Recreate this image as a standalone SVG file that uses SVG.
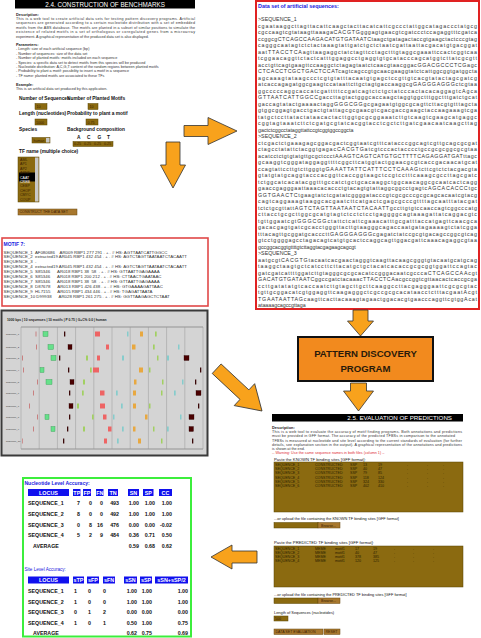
<svg xmlns="http://www.w3.org/2000/svg" width="481" height="638" viewBox="0 0 481 638">
<style>
text{font-family:"Liberation Sans",Arial,sans-serif}
.sm{font-size:3.7px;fill:#333}
.smb{font-size:3.9px;fill:#222;font-weight:bold}
.lbl{font-size:4.8px;fill:#111;font-weight:bold}
.seq{font-family:"Liberation Mono","DejaVu Sans Mono",monospace;font-size:5.3px;fill:#333}
.mot{font-family:"Liberation Mono","DejaVu Sans Mono",monospace;font-size:4.35px;fill:#333}
.gff{font-family:"Liberation Mono","DejaVu Sans Mono",monospace;font-size:3.6px;fill:#2a1e00}
.blue{fill:#2020e0;font-weight:bold}
.box{fill:#8b6a10;stroke:#5a4500;stroke-width:0.5}
.btn{fill:#a8782e;stroke:#6a4a10;stroke-width:0.5}
.btnt{font-size:3.6px;fill:#3a2000}
.arrow{fill:#f8a21c;stroke:#333;stroke-width:0.8}
.hd{fill:#1010ee}
.hdt{font-size:5.4px;fill:#fff;font-weight:bold;text-anchor:middle}
.tb{font-size:5.3px;fill:#111;font-weight:bold}
.tbe{font-size:5.3px;fill:#111;font-weight:bold;text-anchor:end}
.grid{stroke:#999;stroke-width:0.5}
.pk{fill:#c88080}.gr{fill:#66e08a;stroke:#3a9a55;stroke-width:0.4}.dk{fill:#3a0808}.dr{fill:#4a0000;stroke:#200;stroke-width:0.3}.rd{fill:#ee6464}.cy{fill:#86cccc}.or{fill:#e8a840}.lg{fill:#a2d062}
.rl{font-size:2.4px;fill:#333}
</style>

<g id="construction">
<rect x="15" y="0" width="180" height="8.5" fill="#000"/>
<text x="105" y="6.6" font-size="6.3" fill="#fff" text-anchor="middle">2.4. CONSTRUCTION OF BENCHMARKS</text>
<text x="16" y="16" class="smb">Description:</text>
<text x="16" y="20" class="sm" textLength="179">This is a web tool to create artificial data sets for testing pattern discovery programs. Artificial</text>
<text x="16" y="24.4" class="sm" textLength="179">sequences are generated according to a certain nucleotide distribution with a set of embedded</text>
<text x="16" y="28.8" class="sm" textLength="179">motifs from the ABS database. The motifs are planted in a subset of similar positions to simulate the</text>
<text x="16" y="33.2" class="sm" textLength="179">existence of related motifs in a set of orthologous or coregulated genes from a microarray</text>
<text x="16" y="37.6" class="sm">experiment. A graphical representation of the produced data set is also displayed.</text>
<text x="16" y="46" class="smb">Parameters:</text>
<text x="16" y="50.4" class="sm">- Length: size of each artificial sequence (bp)</text>
<text x="16" y="54.8" class="sm">- Number of sequences: size of the data set</text>
<text x="16" y="59.2" class="sm">- Number of planted motifs: motifs included on each sequence</text>
<text x="16" y="63.6" class="sm">- Species: a specific data set to detect motifs from this species will be produced</text>
<text x="16" y="68" class="sm">- Nucleotide distribution: A,C,G,T content of the random regions between planted motifs</text>
<text x="16" y="72.4" class="sm">- Probability to plant a motif: possibility to insert a motif in a sequence</text>
<text x="16" y="76.8" class="sm">- TF name: planted motifs are associated to these TFs</text>
<text x="16" y="86" class="smb">Example:</text>
<text x="16" y="90.4" class="sm">This is an artificial data set produced by this application.</text>
<text x="19" y="99.5" class="lbl">Number of Sequences</text>
<text x="67" y="99.5" class="lbl">Number of Planted Motifs</text>
<rect x="35" y="103.5" width="12" height="6" class="box"/>
<text x="36.5" y="108" class="btnt">10</text>
<rect x="88" y="103.5" width="10" height="6" class="box"/>
<text x="89.5" y="108" class="btnt">10</text>
<text x="19" y="115" class="lbl">Length (nucleotides)</text>
<text x="67" y="115" class="lbl">Probability to plant a motif</text>
<rect x="35" y="119" width="12" height="6" class="box"/>
<text x="36" y="123.5" class="btnt">1000</text>
<rect x="86" y="119" width="12" height="6" class="box"/>
<text x="87.5" y="123.5" class="btnt">0.75</text>
<text x="19" y="131" class="lbl">Species</text>
<text x="67" y="131" class="lbl">Background composition</text>
<text x="77" y="138.5" class="lbl">A</text>
<text x="87" y="138.5" class="lbl">C</text>
<text x="97.5" y="138.5" class="lbl">G</text>
<text x="107" y="138.5" class="lbl">T</text>
<rect x="32" y="137.5" width="18" height="5.5" class="box"/>
<text x="33.5" y="141.6" class="btnt">human</text>
<rect x="46" y="138" width="3.5" height="4.5" fill="#c8c8c8"/>
<rect x="73" y="141.5" width="40" height="5" class="box"/>
<text x="74" y="145.4" class="btnt">0.25</text>
<text x="84" y="145.4" class="btnt">0.25</text>
<text x="94" y="145.4" class="btnt">0.25</text>
<text x="104" y="145.4" class="btnt">0.25</text>
<text x="19" y="153" class="lbl" font-weight="normal">TF name (multiple choice)</text>
<rect x="18" y="157" width="21" height="45" class="box"/>
<rect x="35" y="157.5" width="3.5" height="44" fill="#c8c8c8"/>
<rect x="19" y="172.5" width="16" height="9" fill="#000"/>
<g class="btnt">
<text x="20" y="161">AML</text>
<text x="20" y="165.4">AP1</text>
<text x="20" y="169.8">AP2</text>
<text x="20" y="174.2">ARNT</text>
<text x="20" y="178.6" fill="#fff">CAAT</text>
<text x="20" y="183" fill="#fff">CREB</text>
<text x="20" y="187.4">CEBP</text>
<text x="20" y="191.8">CHOP</text>
<text x="20" y="196.2">CMYC</text>
<text x="20" y="200.6">COUP</text>
</g>
<rect x="18" y="209" width="59" height="6" class="btn"/>
<text x="19.5" y="213.4" class="btnt">CONSTRUCT THE DATA SET</text>
</g>

<g id="dataset">
<rect x="256" y="1" width="223" height="308" fill="#fff" stroke="#e02222" stroke-width="2"/>
<text x="258" y="7.5" font-size="5.4" class="blue">Data set of artificial sequences:</text>
<g class="seq">
<text x="258" y="21">&gt;SEQUENCE_1</text>
<text x="258" y="27.5" textLength="219">cgaataaggcttagttacattcaagctacttacatcattcgccctattggcatagaccctatgcg</text>
<text x="258" y="34" textLength="219">cgccaagtcgtataagttaaagaCACGTGgggagtgaacgtcgatccctccagaggtttcgatca</text>
<text x="258" y="40.5" textLength="219">ccggcgCTCAGCCAAGACATGTGATAATCtaagctgatagactaccgtgaagctactcccgtag</text>
<text x="258" y="47" textLength="219">cagggcaatagtctctactaaagtattgatctgctctaatcgattaattacgacatgtgacggat</text>
<text x="258" y="53.5" textLength="219">aatTTACCTCAagttaagaggctatctagttcctagctttgtaggcgaaattccactcggtcaa</text>
<text x="258" y="60" textLength="219">tcggaacaggttctactcatttggaggcctgaggtgtgcatacccagcatggtcttatcgcgtt</text>
<text x="258" y="66.5" textLength="219">acctgttcagtgaagttccaaggctctagagtaatctcaacgtaacggacGGACGCCCTCGagc</text>
<text x="258" y="73" textLength="219">CTCACCTCGCTGACTCCATcagtcagccgtgcaacgaaggtatctcattggcggtgatggcta</text>
<text x="258" y="79.5" textLength="219">agcaaagtataagccctcgtgtatttacaatgtgagctccgttgtcacgtatactagcgatcg</text>
<text x="258" y="86" textLength="219">atcaccagagatggcgaagtccataattcttgctagtgaccaaggcgGAGGGAGGGctcgtaa</text>
<text x="258" y="92.5" textLength="219">ggcccccaggcaccatcgatttttccgatcagtctctgctatcccactacacaggagtcAgca</text>
<text x="258" y="99" textLength="219">GTTAATCATTGGCCgaccttagtactgggcaccaagctaggtggctttggctttgatctgcat</text>
<text x="258" y="105.5" textLength="219">gaccagtatactgaaaactaggGGGCGGgcgagaatgtggcgcagttcttacgtgtttagcta</text>
<text x="258" y="112" textLength="219">gtggcggagtgacctgactgtattagcgcgaacgtcgacgaccgaagctaccaagaaagtcga</text>
<text x="258" y="118.5" textLength="219">tatgctccttatactataacactacttggtgcgcggaaatcttgtcaagtcgaagcatgaggc</text>
<text x="258" y="125" textLength="219">cggtagtaaatcttctcgatgcgtatcacggtacctcgctcttgatcgaacaatcaagcttag</text>
<text x="258" y="131.5">gactctcggcctataggttattccgtcggtggccggcta</text>
<text x="258" y="138">&gt;SEQUENCE_2</text>
<text x="258" y="144.5" textLength="219">ctcgactctgaaagagcggacgactcggtaatcgtttcatacccggcagtcgttgcagcgcgat</text>
<text x="258" y="151" textLength="219">ctagcctatattctacggtgagacCACGTGatcgtcccactacccctgccgcgcggcgcgtaa</text>
<text x="258" y="157.5" textLength="219">acatcctctgtgtatgttgcgctccctAAAGTCAGTCATGTGCTTTTCAGAGGATGATttagc</text>
<text x="258" y="164" textLength="219">gcaaggtcgggataggaggttttcggcttcatggtactggaacgcgtcaccgacaacatgcat</text>
<text x="258" y="170.5" textLength="219">ccagtattccttgtcttgggtgGAAATTATTCATTTCCTCAAAGtcttcgtctctacgacgta</text>
<text x="258" y="177" textLength="219">gtatgtatgcaggtacccacggttcaccggtaagctccgtcctttcaaagcgccttagcgatc</text>
<text x="258" y="183.5" textLength="219">tctggcatcacatacggtttgccatctgctgcacaaggctggcaacaggcgcaatcactcagg</text>
<text x="258" y="190" textLength="219">gaaccgagggaattaaacacaccctgtacagtgtattaggcggcctgagtcAGCACACCCtgc</text>
<text x="258" y="196.5" textLength="219">GGTGAACTCtgaagtatctcgatatcggggatacccgtcgcgcccgcgcagcacaatcgtacg</text>
<text x="258" y="203" textLength="219">cagtcaggaaagtaaggcacgaatcttcatgactcgagcgcccgttttagcaatttatacgat</text>
<text x="258" y="209.5" textLength="219">tctctgcgttattAGTCTAGTTAATAATCTACAATTgccttgtgtccaaccagtcggcccatg</text>
<text x="258" y="216" textLength="219">cttacctgcgcttggcgcatgtagtctcctctcctgaggggcagtaaagattatcaggacgtc</text>
<text x="258" y="222.5" textLength="219">tgttggaatcgtGGGCGGctattctcattcgaaacatttgcgatttaccatgagttcaacgca</text>
<text x="258" y="229" textLength="219">gacacgagtgatcgcacctgggttacttgtaagggcagaccaatgatagaaaagtctatcgga</text>
<text x="258" y="235.5" textLength="219">tttacagttgcggatgcacccttGAGGGAGGGcgagatctatccgcgtgacagccggcgtcag</text>
<text x="258" y="242" textLength="219">gtcctggggagcctagacagtcatgtgcactccaggcagttggacgattcaaacagaggcgtaa</text>
<text x="258" y="248.5">gccggcacggtgttttgtcttaggtacgagaagcagcgt</text>
<text x="258" y="255">&gt;SEQUENCE_3</text>
<text x="258" y="261.5" textLength="219">aatgcgtCACGTGtacaatcacgaactagggtcaagttacaagcgggtgtacaatgcatgcag</text>
<text x="258" y="268" textLength="219">taaggctaagtgctcatccttcttacatgctgctacatcacaccgcgcggtggattccagtac</text>
<text x="258" y="274.5" textLength="219">gatcgatcattttggatcttgtagggcgcgcacatccgggacaatcgcccaCTCAGCCAAcgt</text>
<text x="258" y="281" textLength="219">GACATGTGATAATCggccgatctacaaacTTACCTCAacgccggtcgttaacactcaccgcga</text>
<text x="258" y="287.5" textLength="219">ccttgatatatgtcaccaatcttgtagcttgcttcaaggccttacgagggaattcgcgcgtac</text>
<text x="258" y="294" textLength="219">tgttgcggacatcgtggaggttcaagagggctcgccgcgcacataacctctttacgaatAcgt</text>
<text x="258" y="300.5" textLength="219">TGAATAATTAGcaagttcacttacaaagtagaactggacacgtgaacccaggttcgtggAcat</text>
<text x="258" y="307">ataaaagcagccgttaga</text>
</g>
<rect x="256" y="308" width="223" height="2" fill="#e02222"/>
</g>

<g id="motif">
<rect x="2" y="238" width="206" height="68" fill="#fff" stroke="#e04848" stroke-width="1.6"/>
<text x="3.5" y="245.5" font-size="5" class="blue">MOTIF 7:</text>
<g class="mot">
<text xml:space="preserve" x="3.5" y="253.5">SEQUENCE_1  AF080686    AR009 RBP1 277 291 . + . # HS: AGTTAATCATTGGCC</text>
<text xml:space="preserve" x="3.5" y="258.4">SEQUENCE_2  extracted19 AR045 RBP1 432 454 . + . # HS: AGTCTAGTTAATAATCTACAATT</text>
<text xml:space="preserve" x="3.5" y="263.3">SEQUENCE_3  -</text>
<text xml:space="preserve" x="3.5" y="268.2">SEQUENCE_4  extracted19 AR045 RBP1 432 454 . + . # HS: AGTCTAGTTAATAATCTACAATT</text>
<text xml:space="preserve" x="3.5" y="273.1">SEQUENCE_5  S85346      AR018 RBP1 38  58  . + . # HS: GTTAATTGAGAAAA</text>
<text xml:space="preserve" x="3.5" y="278">SEQUENCE_6  S85346      AR018 RBP1 200 212 . + . # HS: CTTAACTGAATAAC</text>
<text xml:space="preserve" x="3.5" y="282.9">SEQUENCE_7  S85346      AR018 RBP1 38  58  . + . # HS: GTTAATTGAGAAAA</text>
<text xml:space="preserve" x="3.5" y="287.8">SEQUENCE_8  D87678      AR013 RBP1 426 438 . + . # HS: GTGAAAAGATTAAC</text>
<text xml:space="preserve" x="3.5" y="292.7">SEQUENCE_9  HL7155      AR015 RBP1 434 446 . + . # HS: TGAGATTAATA</text>
<text xml:space="preserve" x="3.5" y="297.6">SEQUENCE_10 D99938      AR028 RBP1 261 275 . + . # HS: GGTTAAGAGCTCTAAT</text>
</g>
</g>

<g id="chart">
<rect x="1.5" y="310.5" width="206" height="145" fill="#d4d4d4" stroke="#3a3a3a" stroke-width="2"/>
<text x="7" y="320.5" font-size="3.3" font-weight="bold" fill="#222">1000 bps | 10 sequences | 10 motifs | P 0.75 | G+C% 0.0 | human</text>
<g class="grid">
<line x1="21" y1="327" x2="203" y2="327" stroke="#555"/>
<line x1="21" y1="449" x2="203" y2="449" stroke="#555"/>
<line x1="21" y1="327" x2="21" y2="449"/>
<line x1="39.2" y1="327" x2="39.2" y2="449"/>
<line x1="57.4" y1="327" x2="57.4" y2="449"/>
<line x1="75.6" y1="327" x2="75.6" y2="449"/>
<line x1="93.8" y1="327" x2="93.8" y2="449"/>
<line x1="112" y1="327" x2="112" y2="449"/>
<line x1="130.2" y1="327" x2="130.2" y2="449"/>
<line x1="148.4" y1="327" x2="148.4" y2="449"/>
<line x1="166.6" y1="327" x2="166.6" y2="449"/>
<line x1="184.8" y1="327" x2="184.8" y2="449"/>
<line x1="203" y1="327" x2="203" y2="449"/>
</g>
<g class="rl">
<text x="6" y="335">sequence_1</text>
<text x="6" y="348">sequence_2</text>
<text x="6" y="359">sequence_3</text>
<text x="6" y="371">sequence_4</text>
<text x="6" y="383">sequence_5</text>
<text x="6" y="394">sequence_6</text>
<text x="6" y="407">sequence_7</text>
<text x="6" y="418">sequence_8</text>
<text x="6" y="430">sequence_9</text>
<text x="6" y="442">sequence_10</text>
</g>
<g>
<rect class="pk" x="35.5" y="331.5" width="1" height="5"/><rect class="gr" x="43" y="331.5" width="5" height="5"/><rect class="dk" x="64" y="331.5" width="1.3" height="5"/><rect class="rd" x="95" y="331.5" width="5" height="5"/><rect class="cy" x="127" y="331.5" width="1.5" height="5"/><rect class="or" x="140" y="331.5" width="3" height="5"/><rect class="lg" x="155" y="331.5" width="1.7" height="5"/>
<rect class="pk" x="36" y="344.5" width="1" height="5"/><rect class="gr" x="48" y="344.5" width="5.5" height="5"/><rect class="dr" x="68" y="344.5" width="4" height="5"/><rect class="rd" x="106" y="344.5" width="3" height="5"/><rect class="or" x="132" y="344.5" width="3.5" height="5"/><rect class="lg" x="153" y="344.5" width="1.7" height="5"/><rect class="cy" x="178" y="344.5" width="1.5" height="5"/>
<rect class="pk" x="22" y="355.5" width="1" height="5"/><rect class="gr" x="51" y="355.5" width="5" height="5"/><rect class="dk" x="59" y="355.5" width="1.3" height="5"/><rect class="lg" x="86" y="355.5" width="2" height="5"/><rect class="rd" x="97" y="355.5" width="3" height="5"/><rect class="cy" x="122" y="355.5" width="2" height="5"/><rect class="lg" x="157" y="355.5" width="1.5" height="5"/><rect class="cy" x="167" y="355.5" width="2" height="5"/><rect class="dr" x="184" y="355.5" width="5" height="5"/>
<rect class="pk" x="23" y="367.5" width="1" height="5"/><rect class="gr" x="40" y="367.5" width="4" height="5"/><rect class="dk" x="68" y="367.5" width="1.3" height="5"/><rect class="lg" x="90" y="367.5" width="1.7" height="5"/><rect class="rd" x="93" y="367.5" width="6" height="5"/><rect class="or" x="139" y="367.5" width="4" height="5"/><rect class="lg" x="149" y="367.5" width="1.5" height="5"/><rect class="dk" x="200" y="367.5" width="1.3" height="5"/>
<rect class="pk" x="37" y="379.5" width="1" height="5"/><rect class="gr" x="46" y="379.5" width="6" height="5"/><rect class="dr" x="70" y="379.5" width="4" height="5"/><rect class="lg" x="83" y="379.5" width="2" height="5"/><rect class="or" x="134" y="379.5" width="2.5" height="5"/><rect class="lg" x="162" y="379.5" width="1.5" height="5"/><rect class="cy" x="182" y="379.5" width="1.5" height="5"/><rect class="dk" x="195" y="379.5" width="1.3" height="5"/>
<rect class="pk" x="33" y="390.5" width="1" height="5"/><rect class="dk" x="69" y="390.5" width="1.3" height="5"/><rect class="lg" x="82" y="390.5" width="1.7" height="5"/><rect class="rd" x="100" y="390.5" width="4.5" height="5"/><rect class="cy" x="116" y="390.5" width="1.7" height="5"/><rect class="or" x="133" y="390.5" width="3" height="5"/><rect class="lg" x="161" y="390.5" width="1.5" height="5"/><rect class="cy" x="174" y="390.5" width="1.7" height="5"/><rect class="dr" x="196" y="390.5" width="5" height="5"/>
<rect class="pk" x="29" y="403.5" width="1" height="5"/><rect class="dr" x="69" y="403.5" width="4" height="5"/><rect class="lg" x="77" y="403.5" width="2" height="5"/><rect class="rd" x="100" y="403.5" width="5" height="5"/><rect class="cy" x="121" y="403.5" width="1.7" height="5"/><rect class="or" x="133" y="403.5" width="3" height="5"/><rect class="lg" x="149" y="403.5" width="1.5" height="5"/><rect class="dk" x="198" y="403.5" width="1.3" height="5"/>
<rect class="pk" x="37" y="414.5" width="1" height="5"/><rect class="gr" x="45" y="414.5" width="4" height="5"/><rect class="dk" x="69" y="414.5" width="1.3" height="5"/><rect class="lg" x="92" y="414.5" width="1.7" height="5"/><rect class="rd" x="103" y="414.5" width="3.5" height="5"/><rect class="cy" x="113" y="414.5" width="1.5" height="5"/><rect class="or" x="145" y="414.5" width="2.5" height="5"/><rect class="cy" x="180" y="414.5" width="1.5" height="5"/><rect class="dr" x="189" y="414.5" width="5" height="5"/>
<rect class="pk" x="33" y="426.5" width="1" height="5"/><rect class="gr" x="51" y="426.5" width="4" height="5"/><rect class="dk" x="67" y="426.5" width="1.3" height="5"/><rect class="lg" x="83" y="426.5" width="2" height="5"/><rect class="rd" x="108" y="426.5" width="3.5" height="5"/><rect class="cy" x="122" y="426.5" width="1.7" height="5"/><rect class="or" x="133" y="426.5" width="2.5" height="5"/><rect class="lg" x="153" y="426.5" width="1.5" height="5"/><rect class="cy" x="167" y="426.5" width="1.7" height="5"/><rect class="dr" x="189" y="426.5" width="4.5" height="5"/>
<rect class="pk" x="22" y="438.5" width="0.8" height="5"/><rect class="dk" x="63" y="438.5" width="1.3" height="5"/><rect class="rd" x="104" y="438.5" width="3" height="5"/><rect class="cy" x="117" y="438.5" width="1.7" height="5"/><rect class="or" x="138" y="438.5" width="3" height="5"/><rect class="lg" x="161" y="438.5" width="1.5" height="5"/><rect class="dk" x="192" y="438.5" width="1.3" height="5"/>
</g>
</g>

<g id="pattern">
<rect x="298" y="337" width="135" height="44" fill="#f28a1e" stroke="#111" stroke-width="2"/>
<text x="365.5" y="357" font-size="9.6" font-weight="bold" fill="#2a1a0a" text-anchor="middle">PATTERN DISCOVERY</text>
<text x="365.5" y="372" font-size="9.6" font-weight="bold" fill="#2a1a0a" text-anchor="middle">PROGRAM</text>
</g>

<g id="evaluation">
<rect x="272" y="414" width="191" height="7.5" fill="#000"/>
<text x="452" y="420.2" font-size="6.2" fill="#fff" text-anchor="end">2.5. EVALUATION OF PREDICTIONS</text>
<text x="272" y="429" class="smb">Description:</text>
<text x="272" y="433.2" class="sm" textLength="190">This is a web tool to evaluate the accuracy of motif finding programs. Both annotations and predictions</text>
<text x="272" y="437.4" class="sm" textLength="183">must be provided in GFF format. The accuracy of the predicted TFBSs in comparison to the annotated</text>
<text x="272" y="441.6" class="sm" textLength="190">TFBSs is measured at nucleotide and site level according to the current standards of evaluation (for further</text>
<text x="272" y="445.8" class="sm" textLength="190">details, see explanation section in the output). A graphical representation of the annotations and predictions</text>
<text x="272" y="450" class="sm">is shown at the end.</text>
<text x="272" y="454.2" class="sm" style="fill:#e03030">-- Warning: Use the same sequence names in both files (column 1) --</text>
<text x="274" y="460.5" font-size="4.2" fill="#111">Paste the KNOWN TF binding sites [GFF format]:</text>
<rect x="274" y="462" width="189" height="50" class="box"/>
<g class="gff">
<text y="466"><tspan x="275">SEQUENCE_1</tspan><tspan x="315">CONSTRUCTED</tspan><tspan x="350">SSP</tspan><tspan x="363">13</tspan><tspan x="378">19</tspan><tspan x="407">.</tspan><tspan x="427">.</tspan><tspan x="443">.</tspan></text>
<text y="470.2"><tspan x="275">SEQUENCE_2</tspan><tspan x="315">CONSTRUCTED</tspan><tspan x="350">SSP</tspan><tspan x="363">40</tspan><tspan x="378">47</tspan><tspan x="407">.</tspan><tspan x="427">.</tspan><tspan x="443">.</tspan></text>
<text y="474.4"><tspan x="275">SEQUENCE_3</tspan><tspan x="315">CONSTRUCTED</tspan><tspan x="350">SSP</tspan><tspan x="363">79</tspan><tspan x="378">85</tspan><tspan x="407">.</tspan><tspan x="427">.</tspan><tspan x="443">.</tspan></text>
<text y="478.6"><tspan x="275">SEQUENCE_4</tspan><tspan x="315">CONSTRUCTED</tspan><tspan x="350">SSP</tspan><tspan x="363">118</tspan><tspan x="378">124</tspan><tspan x="407">.</tspan><tspan x="427">.</tspan><tspan x="443">.</tspan></text>
<text y="482.8"><tspan x="275">SEQUENCE_5</tspan><tspan x="315">CONSTRUCTED</tspan><tspan x="350">SSP</tspan><tspan x="363">324</tspan><tspan x="378">330</tspan><tspan x="407">.</tspan><tspan x="427">.</tspan><tspan x="443">.</tspan></text>
<text y="487"><tspan x="275">SEQUENCE_6</tspan><tspan x="315">CONSTRUCTED</tspan><tspan x="350">SSP</tspan><tspan x="363">402</tspan><tspan x="378">410</tspan><tspan x="407">.</tspan><tspan x="427">.</tspan><tspan x="443">.</tspan></text>
</g>
<text x="274" y="520" font-size="3.9" fill="#111">...or upload the file containing the KNOWN TF binding sites [GFF format]</text>
<rect x="274" y="522.5" width="44" height="5.5" class="box"/>
<rect x="318" y="522.5" width="22" height="5.5" class="btn"/>
<text x="321" y="526.6" class="btnt">Browse...</text>
<text x="274" y="544" font-size="4.2" fill="#111">Paste the PREDICTED TF binding sites [GFF format]:</text>
<rect x="274" y="546" width="189" height="41" class="box"/>
<g class="gff">
<text y="550"><tspan x="275">SEQUENCE_1</tspan><tspan x="315">MEME</tspan><tspan x="335">motif1</tspan><tspan x="355">17</tspan><tspan x="373">19</tspan><tspan x="394">.</tspan><tspan x="413">.</tspan><tspan x="433">.</tspan></text>
<text y="554"><tspan x="275">SEQUENCE_2</tspan><tspan x="315">MEME</tspan><tspan x="335">motif1</tspan><tspan x="355">40</tspan><tspan x="373">47</tspan><tspan x="394">.</tspan><tspan x="413">.</tspan><tspan x="433">.</tspan></text>
<text y="558"><tspan x="275">SEQUENCE_3</tspan><tspan x="315">MEME</tspan><tspan x="335">motif1</tspan><tspan x="355">378</tspan><tspan x="373">385</tspan><tspan x="394">.</tspan><tspan x="413">.</tspan><tspan x="433">.</tspan></text>
<text y="562"><tspan x="275">SEQUENCE_4</tspan><tspan x="315">MEME</tspan><tspan x="335">motif1</tspan><tspan x="355">120</tspan><tspan x="373">125</tspan><tspan x="394">.</tspan><tspan x="413">.</tspan><tspan x="433">.</tspan></text>
</g>
<text x="274" y="596" font-size="3.9" fill="#111">...or upload the file containing the PREDICTED TF binding sites [GFF format]</text>
<rect x="274" y="598" width="44" height="5.5" class="box"/>
<rect x="318" y="598" width="22" height="5.5" class="btn"/>
<text x="321" y="602.1" class="btnt">Browse...</text>
<text x="274" y="614" font-size="3.9" fill="#111">Length of Sequences (nucleotides)</text>
<rect x="274" y="616" width="14" height="5" class="box"/>
<text x="275" y="619.8" class="btnt">500</text>
<rect x="274" y="629" width="49" height="5.5" class="btn"/>
<text x="275.5" y="633" class="btnt">DATA SET EVALUATION</text>
<rect x="324" y="629" width="16" height="5.5" class="btn"/>
<text x="325.5" y="633" class="btnt">RESET</text>
</g>

<g id="accuracy">
<rect x="23" y="478" width="168" height="158.5" fill="#fff" stroke="#3cee3c" stroke-width="2"/>
<text x="24.5" y="485" font-size="5" class="blue">Nucleotide Level Accuracy:</text>
<rect class="hd" x="28" y="489" width="41" height="7"/><text class="hdt" x="48.5" y="494.6">LOCUS</text>
<rect class="hd" x="73" y="489" width="7.5" height="7"/><text class="hdt" x="76.8" y="494.6">TP</text>
<rect class="hd" x="83" y="489" width="8" height="7"/><text class="hdt" x="87" y="494.6">FP</text>
<rect class="hd" x="96" y="489" width="7.5" height="7"/><text class="hdt" x="99.8" y="494.6">FN</text>
<rect class="hd" x="108" y="489" width="10" height="7"/><text class="hdt" x="113" y="494.6">TN</text>
<rect class="hd" x="128" y="489" width="11" height="7"/><text class="hdt" x="133.5" y="494.6">SN</text>
<rect class="hd" x="143" y="489" width="10.5" height="7"/><text class="hdt" x="148.3" y="494.6">SP</text>
<rect class="hd" x="159" y="489" width="13" height="7"/><text class="hdt" x="165.5" y="494.6">CC</text>
<g>
<text class="tb" x="28" y="505">SEQUENCE_1</text><text class="tbe" x="80" y="505">7</text><text class="tbe" x="92" y="505">0</text><text class="tbe" x="103" y="505">0</text><text class="tbe" x="119" y="505">493</text><text class="tbe" x="139" y="505">1.00</text><text class="tbe" x="155" y="505">1.00</text><text class="tbe" x="172" y="505">1.00</text>
<text class="tb" x="28" y="515.5">SEQUENCE_2</text><text class="tbe" x="80" y="515.5">8</text><text class="tbe" x="92" y="515.5">0</text><text class="tbe" x="103" y="515.5">0</text><text class="tbe" x="119" y="515.5">492</text><text class="tbe" x="139" y="515.5">1.00</text><text class="tbe" x="155" y="515.5">1.00</text><text class="tbe" x="172" y="515.5">1.00</text>
<text class="tb" x="28" y="526.5">SEQUENCE_3</text><text class="tbe" x="80" y="526.5">0</text><text class="tbe" x="92" y="526.5">8</text><text class="tbe" x="103" y="526.5">16</text><text class="tbe" x="119" y="526.5">476</text><text class="tbe" x="139" y="526.5">0.00</text><text class="tbe" x="155" y="526.5">0.00</text><text class="tbe" x="172" y="526.5">-0.02</text>
<text class="tb" x="28" y="537">SEQUENCE_4</text><text class="tbe" x="80" y="537">5</text><text class="tbe" x="92" y="537">2</text><text class="tbe" x="103" y="537">9</text><text class="tbe" x="119" y="537">484</text><text class="tbe" x="139" y="537">0.36</text><text class="tbe" x="155" y="537">0.71</text><text class="tbe" x="172" y="537">0.50</text>
<text class="tb" x="33" y="548">AVERAGE</text><text class="tbe" x="139" y="548">0.59</text><text class="tbe" x="155" y="548">0.68</text><text class="tbe" x="172" y="548">0.62</text>
</g>
<text x="24.5" y="571" font-size="4.6" fill="#2020e0">Site Level Accuracy:</text>
<rect class="hd" x="28" y="576.5" width="41" height="7"/><text class="hdt" x="48.5" y="582.1">LOCUS</text>
<rect class="hd" x="73" y="576.5" width="11" height="7"/><text class="hdt" x="78.5" y="582.1">sTP</text>
<rect class="hd" x="87" y="576.5" width="12" height="7"/><text class="hdt" x="93" y="582.1">sFP</text>
<rect class="hd" x="103" y="576.5" width="12" height="7"/><text class="hdt" x="109" y="582.1">sFN</text>
<rect class="hd" x="124" y="576.5" width="13" height="7"/><text class="hdt" x="130.5" y="582.1">sSN</text>
<rect class="hd" x="140" y="576.5" width="12" height="7"/><text class="hdt" x="146" y="582.1">sSP</text>
<rect class="hd" x="155" y="576.5" width="33" height="7"/><text class="hdt" x="171.5" y="582.1">sSN+sSP/2</text>
<g>
<text class="tb" x="28" y="593">SEQUENCE_1</text><text class="tb" x="74" y="593">1</text><text class="tb" x="88" y="593">0</text><text class="tb" x="103" y="593">0</text><text class="tbe" x="137" y="593">1.00</text><text class="tbe" x="152" y="593">1.00</text><text class="tbe" x="188" y="593">1.00</text>
<text class="tb" x="28" y="603.5">SEQUENCE_2</text><text class="tb" x="74" y="603.5">1</text><text class="tb" x="88" y="603.5">0</text><text class="tb" x="103" y="603.5">0</text><text class="tbe" x="137" y="603.5">1.00</text><text class="tbe" x="152" y="603.5">1.00</text><text class="tbe" x="188" y="603.5">1.00</text>
<text class="tb" x="28" y="614">SEQUENCE_3</text><text class="tb" x="74" y="614">0</text><text class="tb" x="88" y="614">1</text><text class="tb" x="103" y="614">2</text><text class="tbe" x="137" y="614">0.00</text><text class="tbe" x="152" y="614">0.00</text><text class="tbe" x="188" y="614">0.00</text>
<text class="tb" x="28" y="624.5">SEQUENCE_4</text><text class="tb" x="74" y="624.5">1</text><text class="tb" x="88" y="624.5">0</text><text class="tb" x="103" y="624.5">1</text><text class="tbe" x="137" y="624.5">0.50</text><text class="tbe" x="152" y="624.5">1.00</text><text class="tbe" x="188" y="624.5">0.75</text>
<text class="tb" x="33" y="635">AVERAGE</text><text class="tbe" x="137" y="635">0.62</text><text class="tbe" x="152" y="635">0.75</text><text class="tbe" x="188" y="635">0.69</text>
</g>
</g>

<g id="connectors">
<path class="arrow" d="M184,125.5 L208,125.5 L208,117.5 L237,131 L208,144.5 L208,136.5 L184,136.5 Z"/>
<path class="arrow" d="M166,142 L180,142 L180,165 L185.5,165 L173,188 L160.5,165 L166,165 Z"/>
<path class="arrow" d="M353,310 L368,310 L368,321 L373.5,321 L360.5,336 L347.5,321 L353,321 Z"/>
<path class="arrow" d="M350.5,383 L366.5,383 L366.5,391 L373.5,391 L358.5,411 L343.5,391 L350.5,391 Z"/>
<path class="arrow" transform="translate(262,411) rotate(43)" d="M-62,-6.5 L-24,-6.5 L-24,-15 L0,0 L-24,15 L-24,6.5 L-62,6.5 Z"/>
<path class="arrow" d="M257,551 L232,551 L232,545 L211,557 L232,569 L232,563 L257,563 Z"/>
</g>
</svg>
